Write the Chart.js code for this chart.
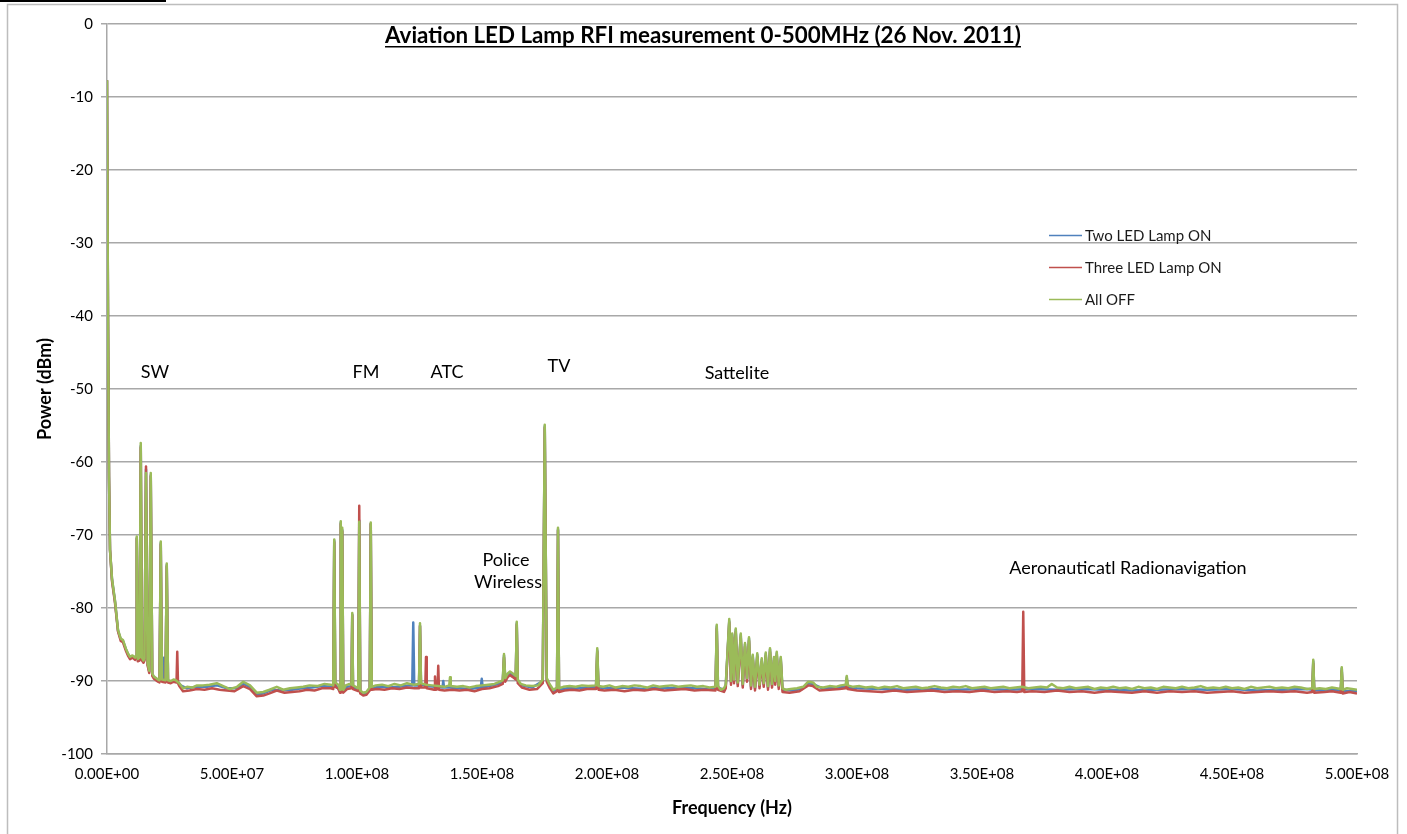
<!DOCTYPE html>
<html>
<head>
<meta charset="utf-8">
<script src="https://cdn.jsdelivr.net/npm/chart.js"></script>
<style>
  html, body { margin: 0; padding: 0; background: #fff; }
  #wrap { width: 1407px; height: 834px; position: relative; }
</style>
</head>
<body>
<div id="wrap"><canvas id="chart-rfi"></canvas></div>
<script>
// Spectrum readings, [frequency in MHz, power in dBm]
const allOffPoints = [
  [0,-7.7],[0.4,-40],[0.8,-62],[1.2,-72],[2,-76],[3.2,-79],[4.4,-83],[5.5,-84.2],[6.4,-84.4],[7.6,-85.6],[8.5,-86.3],[9.2,-86.7],[10.2,-86.5],
  [11.2,-86.8],[11.6,-86.5],[11.9,-70.2],[12.3,-87],[13.0,-86.8],[13.5,-57.4],[14.0,-86.8],[14.6,-87.2],[15.0,-86.9],[15.6,-61.5],[16.2,-87.5],
  [16.9,-88.6],[17.5,-61.5],[18.1,-89],[18.8,-89.4],[19.6,-89.6],[20.4,-89.8],[21.0,-89.9],[21.5,-70.9],[22.0,-89.8],[23.4,-89.9],[23.9,-73.9],
  [24.4,-89.9],[25.5,-90],[26.6,-89.8],[27.5,-89.9],[28.9,-90.3],[30.4,-91],[32,-90.8],[34,-90.9],[36,-90.6],[38.4,-90.6],[41,-90.5],[43.9,-90.3],
  [46.5,-90.7],[49.2,-91.1],[52,-90.8],[54.5,-90.1],[57.2,-90.6],[59.9,-91.6],[62.5,-91.5],[65,-91.2],[67.9,-90.8],[70.5,-91.2],[73.2,-91],
  [76,-90.9],[78.5,-90.8],[81,-90.6],[84,-90.7],[87,-90.4],[89.5,-90.5],[90.5,-90.6],[90.9,-70.6],[91.3,-90.2],[92.5,-90.5],[93.2,-91.2],
  [93.5,-68.1],[93.8,-88],[94.1,-69],[94.5,-91.2],[95.5,-90.6],[97,-90.4],[97.8,-90.5],[98.1,-80.7],[98.4,-90.6],[99.5,-90.8],[100.5,-91],
  [100.9,-68.2],[101.3,-91.3],[102.5,-91.6],[103.7,-91.5],[105.1,-90.9],[105.5,-68.3],[105.9,-90.8],[107.5,-90.6],[110,-90.5],[112.5,-90.7],
  [115,-90.4],[117.5,-90.6],[120,-90.3],[122.5,-90.5],[124.8,-90.4],[125.2,-82.1],[125.6,-90.3],[127.5,-90.5],[130,-90.6],[132.5,-90.7],
  [135,-90.8],[136.9,-90.6],[137.2,-89.5],[137.5,-90.7],[140,-90.8],[142.5,-90.7],[145,-90.9],[147.5,-90.7],[150,-90.6],[152.5,-90.5],
  [155,-90.4],[156.4,-90.2],[158.3,-89.9],[158.8,-86.3],[159.3,-89.6],[160.2,-89],[161.2,-88.7],[162.5,-89],[163.5,-89.3],[163.9,-81.9],
  [164.3,-89.8],[165.5,-90.4],[167.5,-90.6],[170,-90.7],[172.5,-90.6],[174.3,-89.8],[175.1,-54.9],[175.9,-89.6],[177,-90.4],[178.5,-91.2],
  [180,-90.9],[180.4,-69],[180.8,-91],[182.5,-90.8],[185,-90.7],[187.5,-90.8],[190,-90.6],[192.5,-90.7],[195.6,-90.6],[196.1,-85.5],
  [196.6,-90.7],[198.5,-90.8],[201,-90.6],[203.5,-90.9],[206,-90.7],[208.5,-90.8],[211,-90.6],[213.5,-90.7],[216,-90.9],[218.5,-90.6],
  [221,-90.8],[223.5,-90.7],[226,-90.6],[228.5,-90.8],[231,-90.7],[233.5,-90.6],[236,-90.8],[238.5,-90.7],[241,-90.9],[243.4,-90.8],
  [243.9,-82.3],[244.4,-90.7],[245.5,-91.2],[246.8,-91],[247.5,-90.5],[248.9,-81.5],[249.6,-90],[250.1,-83.5],[250.8,-89.8],[251.5,-82.8],
  [252.3,-90.2],[253.5,-83.5],[254.3,-90.4],[255.2,-84.8],[256,-89.6],[256.8,-84],[257.6,-90.6],[258.3,-86.4],[259.2,-90.8],[260.1,-86.2],
  [261,-90.5],[261.9,-86.9],[262.7,-90.3],[263.5,-86.1],[264.4,-90.7],[265.2,-85.5],[266,-90.4],[266.8,-86.7],[267.3,-90],[267.9,-86],
  [268.7,-90.6],[269.5,-86.7],[270.2,-91],[271.5,-91.2],[273.5,-91.1],[276,-91],[278.5,-90.8],[280.5,-90.1],[282.4,-90.2],[284,-90.8],
  [286.5,-90.9],[289,-90.7],[291.5,-90.8],[293.5,-90.6],[295.5,-90.5],[295.9,-89.3],[296.3,-90.6],[298.5,-90.8],[301,-90.7],[303.5,-90.9],
  [306,-90.8],[308.5,-91],[311,-90.8],[313.5,-90.9],[316,-90.7],[318.5,-91],[321,-90.9],[323.5,-90.8],[326,-91],[328.5,-90.9],[331,-90.7],
  [333.5,-90.9],[336,-91],[338.5,-90.8],[341,-90.9],[343.5,-90.7],[346,-91],[348.5,-90.9],[351,-90.8],[353.5,-91],[356,-90.9],[358.5,-90.8],
  [361,-91],[363.5,-90.9],[366,-90.8],[368.5,-91],[371,-90.9],[373.5,-90.8],[376,-90.9],[377.9,-90.4],[380,-90.9],[382.5,-91],[385,-90.8],
  [387.5,-91],[390,-90.9],[392.5,-90.8],[395,-91.1],[397.5,-90.9],[400,-91],[402.5,-90.8],[405,-91],[407.5,-90.9],[410,-91.1],[412.5,-90.8],
  [415,-91],[417.5,-90.9],[420,-91.1],[422.5,-90.8],[425,-90.9],[427.5,-91],[430,-90.8],[432.5,-91],[435,-90.9],[437.5,-90.7],[440,-91],
  [442.5,-90.9],[445,-91],[447.5,-90.8],[450,-91],[452.5,-90.9],[455,-91.1],[457.5,-90.8],[460,-91],[462.5,-90.9],[465,-90.8],[467.5,-91],
  [470,-90.9],[472.5,-91],[475,-90.8],[477.5,-90.9],[480,-91.1],[482.1,-91],[482.5,-87.1],[482.9,-91.1],[485,-91],[487.5,-91.1],[490,-90.9],
  [493.5,-91.1],[493.9,-88.1],[494.3,-91.2],[496,-91],[498,-91.1],[500,-91.2]
];

const threeLedPoints = [
  [0,-7.7],[0.4,-40],[0.8,-62],[1.2,-72],[2,-76.3],[3.2,-79.3],[4.4,-83.2],[5.5,-84.5],[6.4,-84.7],[7.6,-85.9],[8.5,-86.6],[9.2,-87],[10.2,-86.8],
  [11.2,-87.1],[11.6,-86.8],[11.9,-70.5],[12.3,-87.3],[13.0,-87.2],[13.5,-58],[14.0,-87.2],[14.6,-87.5],[15.0,-87.2],[15.6,-60.6],[16.2,-87.8],
  [16.9,-88.9],[17.5,-62],[18.1,-89.3],[18.8,-89.7],[19.6,-89.9],[20.4,-90.1],[21.0,-90.2],[21.5,-71.3],[22.0,-90.1],[23.4,-90.2],[23.9,-74.3],
  [24.4,-90.2],[25.5,-90.3],[26.6,-90.1],[27.8,-90.2],[28.1,-86],[28.4,-90.3],[28.9,-90.7],[30.4,-91.4],[33,-91.3],[36,-91.1],[39,-91.2],
  [42,-91],[45,-91.2],[48,-91.3],[51,-91.4],[54.5,-90.7],[57.2,-91.1],[59.9,-92.1],[62.5,-92],[65,-91.7],[67.9,-91.3],[71,-91.6],[74,-91.5],
  [77,-91.4],[80,-91.2],[83,-91.3],[86,-91],[89.5,-91],[90.5,-91.1],[90.9,-71],[91.3,-90.8],[92.5,-91],[93.2,-91.6],[93.5,-68.5],[93.8,-88.5],
  [94.1,-69.5],[94.5,-91.6],[96,-91.1],[97.8,-91],[98.1,-81],[98.4,-91.1],[100.5,-91.4],[100.9,-66],[101.3,-91.7],[102.5,-92],[103.7,-91.9],
  [105.1,-91.3],[105.5,-68.5],[105.9,-91.2],[108,-91.1],[111,-91.2],[114,-91],[117,-91.1],[120,-90.9],[123,-91],[124.8,-91],[125.2,-82.5],
  [125.6,-90.9],[127.3,-90.9],[127.6,-86.7],[127.9,-91],[129.5,-91.1],[130.9,-91.2],[131.2,-89.4],[131.5,-91.2],[132.2,-91.1],[132.5,-87.9],
  [132.8,-91.2],[135,-91.3],[138,-91.2],[141,-91.3],[144,-91.2],[147,-91.4],[150,-91.1],[153,-91],[156.4,-90.7],[158.3,-90.4],[158.8,-86.8],
  [159.3,-90.1],[160.2,-89.5],[161.2,-89.2],[162.5,-89.5],[163.5,-89.8],[163.9,-82.3],[164.3,-90.3],[166,-90.9],[169,-91.2],[172,-91.1],
  [174.3,-90.3],[175.1,-55.3],[175.9,-90.1],[177,-90.9],[178.5,-91.7],[180,-91.4],[180.4,-69.4],[180.8,-91.5],[183,-91.3],[186,-91.2],
  [189,-91.3],[192,-91.1],[195.6,-91.1],[196.1,-86],[196.6,-91.2],[199,-91.3],[203,-91.2],[207,-91.4],[211,-91.2],[215,-91.3],[219,-91.1],
  [223,-91.3],[227,-91.2],[231,-91.1],[235,-91.3],[239,-91.2],[243.4,-91.3],[243.9,-82.8],[244.4,-91.2],[246.8,-91.5],[247.5,-91],[248.9,-82],
  [249.6,-90.5],[250.1,-84],[250.8,-90.3],[251.5,-83.3],[252.3,-90.7],[253.5,-84],[254.3,-90.9],[255.2,-85.3],[256,-90.1],[256.8,-84.5],
  [257.6,-91.1],[258.3,-86.9],[259.2,-91.3],[260.1,-86.7],[261,-91],[261.9,-87.4],[262.7,-90.8],[263.5,-86.6],[264.4,-91.2],[265.2,-86],
  [266,-90.9],[266.8,-87.2],[267.3,-90.5],[267.9,-86.5],[268.7,-91.1],[269.5,-87.2],[270.2,-91.5],[273,-91.6],[277,-91.4],[280.5,-90.6],
  [282.4,-90.7],[285,-91.3],[289,-91.2],[293,-91.1],[295.5,-91],[295.9,-89.8],[296.3,-91.1],[300,-91.3],[305,-91.4],[310,-91.5],[315,-91.3],
  [320,-91.5],[325,-91.4],[330,-91.3],[335,-91.5],[340,-91.4],[345,-91.5],[350,-91.3],[355,-91.5],[360,-91.4],[364,-91.5],[366.1,-91.4],
  [366.5,-80.5],[366.9,-91.5],[370,-91.4],[375,-91.5],[380,-91.3],[385,-91.5],[390,-91.4],[395,-91.6],[400,-91.4],[405,-91.5],[410,-91.6],
  [415,-91.4],[420,-91.6],[425,-91.4],[430,-91.5],[435,-91.4],[440,-91.6],[445,-91.5],[450,-91.4],[455,-91.6],[460,-91.5],[465,-91.4],
  [470,-91.5],[475,-91.4],[480,-91.6],[482.1,-91.5],[482.5,-87.6],[482.9,-91.6],[487,-91.5],[490,-91.4],[493.5,-91.6],[493.9,-88.6],
  [494.3,-91.7],[497,-91.5],[500,-91.7]
];

const twoLedPoints = [
  [0,-7.7],[0.4,-40],[0.8,-62],[1.2,-72],[2,-76.1],[3.2,-79.1],[4.4,-83.1],[5.5,-84.3],[6.4,-84.5],[7.6,-85.7],[8.5,-86.4],[9.2,-86.8],[10.2,-86.6],
  [11.2,-86.9],[11.6,-86.6],[11.9,-70.4],[12.3,-87.1],[13.0,-86.9],[13.5,-57.8],[14.0,-86.9],[14.6,-87.3],[15.0,-87],[15.6,-61],[16.2,-87.6],
  [16.9,-88.7],[17.5,-61.8],[18.1,-89.1],[18.8,-89.5],[19.6,-89.7],[20.4,-89.9],[21.0,-90],[21.5,-71.1],[22.0,-89.9],[22.5,-89.8],[22.8,-86.8],
  [23.1,-89.9],[23.4,-90],[23.9,-74.1],[24.4,-90],[26,-90.1],[28,-90],[29.5,-90.6],[32,-91],[36,-90.8],[40,-90.8],[44,-90.6],[48,-91],
  [52,-91],[54.5,-90.4],[57.2,-90.8],[59.9,-91.8],[62.5,-91.7],[66,-91.2],[70,-91.3],[74,-91.2],[78,-91],[82,-90.9],[86,-90.7],[89.5,-90.8],
  [90.5,-90.8],[90.9,-70.8],[91.3,-90.5],[93.2,-91.4],[93.5,-68.3],[93.8,-86],[94.1,-69.3],[94.5,-91.4],[96,-90.8],[97.8,-90.7],[98.1,-80.9],
  [98.4,-90.8],[100.5,-91.2],[100.9,-68],[101.3,-91.5],[103,-91.8],[105.1,-91.1],[105.5,-68.5],[105.9,-91],[109,-90.8],[113,-90.9],[117,-90.8],
  [121,-90.6],[122.1,-90.6],[122.5,-82],[122.9,-90.6],[124.8,-90.6],[125.2,-82.4],[125.6,-90.5],[128,-90.7],[131,-90.8],[134.2,-90.9],
  [134.5,-90],[134.8,-90.9],[137,-90.9],[141,-91],[145,-91.1],[149.5,-90.9],[149.9,-89.7],[150.3,-90.9],[153,-90.7],[156.4,-90.4],[158.3,-90.1],
  [158.8,-86.5],[159.3,-89.8],[160.2,-89.2],[161.2,-88.9],[162.5,-89.2],[163.5,-89.5],[163.9,-82.1],[164.3,-90],[166,-90.6],[170,-90.9],
  [174.3,-90],[175.1,-55.1],[175.9,-89.8],[177,-90.6],[178.5,-91.4],[180,-91.1],[180.4,-69.2],[180.8,-91.2],[184,-91],[188,-91],[192,-90.9],
  [195.6,-90.8],[196.1,-85.8],[196.6,-90.9],[200,-91],[205,-90.9],[210,-91],[215,-91.1],[220,-90.9],[225,-91],[230,-90.9],[235,-91],[240,-91.1],
  [243.4,-91],[243.9,-82.5],[244.4,-90.9],[246.8,-91.2],[247.5,-90.7],[248.9,-81.8],[249.6,-90.2],[250.1,-83.7],[250.8,-90],[251.5,-83],
  [252.3,-90.4],[253.5,-83.7],[254.3,-90.6],[255.2,-85],[256,-89.8],[256.8,-84.2],[257.6,-90.8],[258.3,-86.6],[259.2,-91],[260.1,-86.4],
  [261,-90.7],[261.9,-87.1],[262.7,-90.5],[263.5,-86.3],[264.4,-90.9],[265.2,-85.7],[266,-90.6],[266.8,-86.9],[267.3,-90.2],[267.9,-86.2],
  [268.7,-90.8],[269.5,-86.9],[270.2,-91.2],[274,-91.3],[278,-91.1],[280.5,-90.3],[282.4,-90.4],[286,-91],[290,-91],[295.5,-90.8],[295.9,-89.5],
  [296.3,-90.9],[300,-91],[310,-91.1],[320,-91.2],[330,-91.1],[340,-91.2],[350,-91.1],[360,-91.2],[370,-91.1],[380,-91.2],[390,-91.1],
  [400,-91.2],[410,-91.3],[420,-91.2],[430,-91.1],[440,-91.2],[450,-91.1],[460,-91.3],[470,-91.2],[480,-91.1],[482.1,-91.2],[482.5,-87.3],
  [482.9,-91.3],[490,-91.2],[493.5,-91.3],[493.9,-88.3],[494.3,-91.4],[500,-91.4]
];

const seriesLabels = ['Two LED Lamp ON', 'Three LED Lamp ON', 'All OFF'];
const seriesColors = ['#4F81BD', '#C0504D', '#9BBB59'];

// Band labels written on the plot, placed at [MHz, dBm]
const bandNotes = [
  ['SW', 19.2, -47.7],
  ['FM', 103.6, -47.7],
  ['ATC', 136, -47.7],
  ['TV', 180.8, -46.9],
  ['Sattelite', 252, -47.9],
  ['Police', 159.6, -73.4],
  ['Wireless', 160.4, -76.4],
  ['Aeronauticatl Radionavigation', 408.4, -74.5]
];

const chartTitle = 'Aviation LED Lamp RFI measurement 0-500MHz (26 Nov. 2011)';
const FONT = 'Lato, "Liberation Sans", sans-serif';

function toXY(points) {
    return points.map(p => ({ x: p[0] * 1e6, y: p[1] }));
}

// Excel style scientific label, e.g. 1.50E+08
function sciLabel(v) {
    if (v === 0) return '0.00E+00';
    const e = Math.floor(Math.log10(v) + 1e-9);
    const m = v / Math.pow(10, e);
    return m.toFixed(2) + 'E+' + String(e).padStart(2, '0');
}

// Frame, title, legend and band labels
const decorPlugin = {
    id: 'decor',
    beforeDraw(chart) {
        const ctx = chart.ctx;
        ctx.save();
        ctx.fillStyle = '#fff';
        ctx.fillRect(0, 0, chart.width, chart.height);
        ctx.strokeStyle = '#bdbdbd';
        ctx.lineWidth = 1.5;
        ctx.strokeRect(7.5, 4.5, 1390, 840);
        ctx.fillStyle = '#000';
        ctx.fillRect(0, 0, 166, 2);
        ctx.restore();
    },
    afterDraw(chart) {
        const ctx = chart.ctx;
        const xs = chart.scales.x, ys = chart.scales.y;
        ctx.save();

        // title, fitted to the original width and underlined
        let size = 19;
        ctx.font = 'bold ' + size + 'px ' + FONT;
        size = size * 636 / ctx.measureText(chartTitle).width;
        ctx.font = 'bold ' + size.toFixed(2) + 'px ' + FONT;
        const tw = ctx.measureText(chartTitle).width;
        ctx.fillStyle = '#000';
        ctx.textAlign = 'center';
        ctx.textBaseline = 'alphabetic';
        ctx.fillText(chartTitle, 703, 43);
        ctx.fillRect(703 - tw / 2, 46, tw, 1.5);

        // band notes
        ctx.font = '18px ' + FONT;
        ctx.textBaseline = 'middle';
        bandNotes.forEach(([text, f, db]) => {
            ctx.fillText(text, xs.getPixelForValue(f * 1e6), ys.getPixelForValue(db));
        });

        // legend
        ctx.font = '15px ' + FONT;
        ctx.textAlign = 'left';
        seriesLabels.forEach((label, i) => {
            const y = 235 + i * 32;
            ctx.strokeStyle = seriesColors[i];
            ctx.lineWidth = 1.5;
            ctx.beginPath();
            ctx.moveTo(1049, y + 0.5);
            ctx.lineTo(1082, y + 0.5);
            ctx.stroke();
            ctx.fillStyle = '#1a1a1a';
            ctx.fillText(label, 1085, y + 1);
        });
        ctx.restore();
    }
};

const gridColor = '#a8a8a8';

new Chart(document.getElementById('chart-rfi'), {
    type: 'scatter',
    data: {
        // drawn last-to-first, so All OFF sits on top
        datasets: [
            { label: seriesLabels[2], data: toXY(allOffPoints), borderColor: seriesColors[2] },
            { label: seriesLabels[1], data: toXY(threeLedPoints), borderColor: seriesColors[1] },
            { label: seriesLabels[0], data: toXY(twoLedPoints), borderColor: seriesColors[0] }
        ].map(ds => ({ ...ds, showLine: true, pointRadius: 0, borderWidth: 2.5, tension: 0, borderJoinStyle: 'round' }))
    },
    options: {
        responsive: true,
        maintainAspectRatio: false,
        animation: false,
        layout: { padding: { top: 24, right: 50, bottom: 0, left: 0 } },
        plugins: {
            legend: { display: false },
            tooltip: { enabled: false }
        },
        scales: {
            x: {
                type: 'linear',
                min: 0,
                max: 5e8,
                afterFit: s => { s.height = 80; },
                grid: { display: false, drawTicks: false },
                border: { display: true, color: gridColor, width: 1.5 },
                ticks: {
                    stepSize: 5e7,
                    autoSkip: false,
                    maxRotation: 0,
                    padding: 11,
                    color: '#000',
                    font: { family: FONT, size: 15 },
                    callback: v => sciLabel(v)
                },
                title: {
                    display: true,
                    text: 'Frequency (Hz)',
                    color: '#000',
                    font: { family: FONT, size: 18, weight: 'bold' },
                    padding: { top: 0, bottom: 15 }
                }
            },
            y: {
                min: -100,
                max: 0,
                afterFit: s => { s.width = 107; },
                grid: { color: gridColor, lineWidth: 1.5, tickLength: 6, drawTicks: true },
                border: { display: true, color: gridColor, width: 1.5 },
                ticks: {
                    stepSize: 10,
                    padding: 8,
                    color: '#000',
                    font: { family: FONT, size: 15 }
                },
                title: {
                    display: true,
                    text: 'Power (dBm)',
                    color: '#000',
                    font: { family: FONT, size: 18, weight: 'bold' },
                    padding: { top: 34, bottom: 0 }
                }
            }
        }
    },
    plugins: [decorPlugin]
});
</script>
</body>
</html>
